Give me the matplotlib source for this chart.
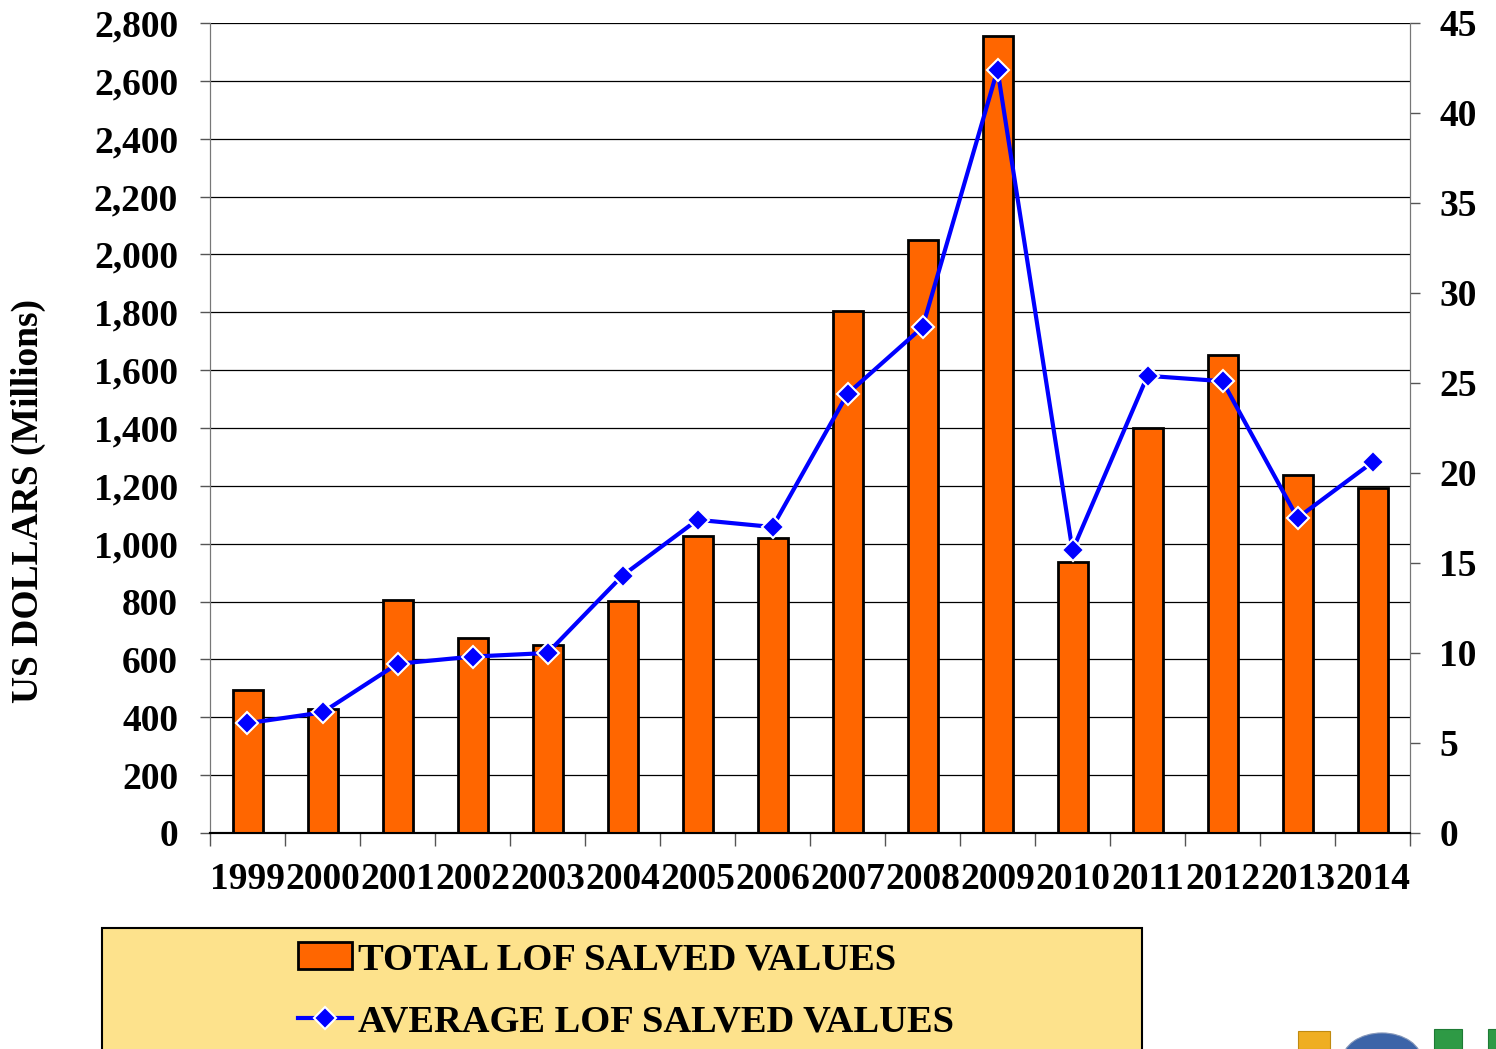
import numpy as np
import matplotlib
matplotlib.use('Agg')
import matplotlib.pyplot as plt
from matplotlib.patches import Rectangle, Circle
from matplotlib.ticker import FuncFormatter, MultipleLocator

# Данные
years = ['1999', '2000', '2001', '2002', '2003', '2004', '2005', '2006',
         '2007', '2008', '2009', '2010', '2011', '2012', '2013', '2014']
total_lof = [495, 430, 805, 674, 650, 802, 1027, 1020,
             1804, 2050, 2755, 937, 1400, 1652, 1237, 1193]
average_lof = [6.1, 6.7, 9.4, 9.8, 10.0, 14.3, 17.4, 17.0,
               24.4, 28.1, 42.4, 15.7, 25.4, 25.1, 17.5, 20.6]

plt.rcParams['font.family'] = ['Liberation Serif', 'DejaVu Serif']
plt.rcParams['font.weight'] = 'bold'
fs = 27

W, H = 1496, 1049
fig = plt.figure(figsize=(W / 100, H / 100), dpi=100)
ax = fig.add_axes([210 / W, (H - 833) / H, 1200 / W, 810 / H])
ax2 = ax.twinx()

x = np.arange(len(years))
bars = ax.bar(x, total_lof, width=0.4, color='#FF6600', edgecolor='black',
              linewidth=2, zorder=3, label='TOTAL LOF SALVED VALUES')
line, = ax2.plot(x, average_lof, color='#0000FF', linewidth=3, marker='D',
                 markersize=11.5, markerfacecolor='#0000FF',
                 markeredgecolor='white', markeredgewidth=1.5, zorder=4,
                 label='AVERAGE LOF SALVED VALUES')

ax.set_xlim(-0.5, len(years) - 0.5)
ax.set_ylim(0, 2800)
ax2.set_ylim(0, 45)
ax.yaxis.set_major_locator(MultipleLocator(200))
ax2.yaxis.set_major_locator(MultipleLocator(5))
ax.yaxis.set_major_formatter(FuncFormatter(lambda v, p: f'{int(v):,}'))
ax.grid(axis='y', color='black', linewidth=0.9, zorder=0)
ax.set_axisbelow(True)

ax.set_xticks(x)
ax.set_xticklabels(years)
ax.set_xticks(np.arange(len(years) + 1) - 0.5, minor=True)
ax.tick_params(axis='x', which='major', length=0, pad=21, labelsize=fs)
ax.tick_params(axis='x', which='minor', length=9, width=1, color='#555555')
ax.tick_params(axis='y', length=7, width=1, color='#555555', pad=16, labelsize=fs)
ax2.tick_params(axis='y', length=7, width=1, color='#555555', pad=14, labelsize=fs)

for a in (ax, ax2):
    a.spines['top'].set_visible(False)
    a.spines['left'].set_color('#777777')
    a.spines['right'].set_color('#777777')
    a.spines['bottom'].set_color('black')
    a.spines['bottom'].set_linewidth(1.5)

fig.text(28 / W, 0.522, 'US DOLLARS (Millions)', rotation=90, fontsize=fs,
         fontweight='bold', ha='center', va='center')

# Рамка легенды
fig.add_artist(Rectangle((102 / W, -0.05), 1040 / W, (H - 928) / H + 0.05,
                         transform=fig.transFigure, facecolor='#FDE28C',
                         edgecolor='black', linewidth=1.5, zorder=1))
leg = fig.legend([bars, line], [bars.get_label(), line.get_label()],
                 loc='upper left', bbox_to_anchor=(298 / W, (H - 942) / H),
                 frameon=False, fontsize=27.7, borderpad=0, handlelength=1.4,
                 handletextpad=0.15, labelspacing=0.72, borderaxespad=0)
leg.set_zorder(2)

# Логотипы в правом нижнем углу
fig.add_artist(Rectangle((1298 / W, 0), 32 / W, 18 / H, transform=fig.transFigure,
                         facecolor='#EFAE22', edgecolor='#C08A10', linewidth=0.8))
fig.add_artist(Circle((1382 / W, -12 / H), 40 / W, transform=fig.transFigure,
                      facecolor='#3C64A8', edgecolor='#8899BB', linewidth=0.8))
fig.add_artist(Rectangle((1434 / W, 0), 28 / W, 20 / H, transform=fig.transFigure,
                         facecolor='#2E9A45', edgecolor='#1E7A35', linewidth=0.8))
fig.add_artist(Rectangle((1488 / W, 0), 10 / W, 20 / H, transform=fig.transFigure,
                         facecolor='#2E9A45', edgecolor='#1E7A35', linewidth=0.8))

fig.savefig('out.png', dpi=100)
